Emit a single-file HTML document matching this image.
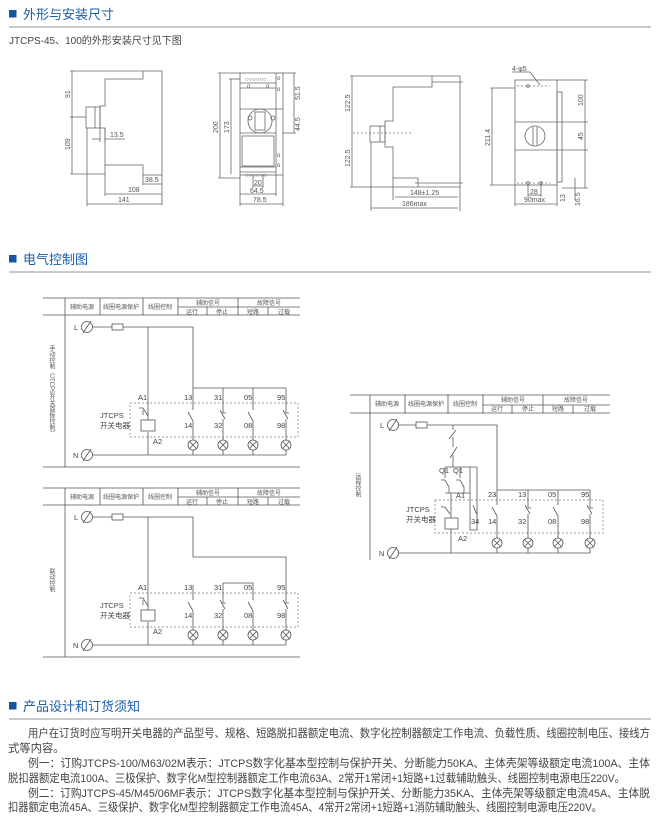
<!DOCTYPE html>
<html><head><meta charset="utf-8"><style>
html,body{margin:0;padding:0;background:#fff;}
svg{display:block;font-family:"Liberation Sans","Noto Sans CJK SC",sans-serif;}
.d{stroke:#666;stroke-width:0.8;fill:none;}
.w{stroke:#555;stroke-width:0.8;fill:none;}
.ds{stroke:#777;stroke-width:0.7;fill:none;stroke-dasharray:2,2;}
.t{fill:#555;font-size:7px;}
.h{fill:#555;font-size:6px;}
.c{fill:#444;font-size:7.5px;}
.p{fill:#444;font-size:11.3px;}
</style></head><body>
<svg width="660" height="820" viewBox="0 0 660 820" xmlns="http://www.w3.org/2000/svg">
<!-- Section headers -->
<rect x="9" y="10" width="7.5" height="7.5" fill="#1456a0"/>
<text x="23" y="19" font-size="13" fill="#1a5ea8">外形与安装尺寸</text>
<line x1="9" y1="27" x2="651" y2="27" stroke="#aaa" stroke-width="1.3"/>
<text x="9" y="44" font-size="10" fill="#444">JTCPS-45、100的外形安装尺寸见下图</text>

<rect x="9" y="255" width="7.5" height="7.5" fill="#1456a0"/>
<text x="23" y="264" font-size="13" fill="#1a5ea8">电气控制图</text>
<line x1="9" y1="272" x2="651" y2="272" stroke="#aaa" stroke-width="1.3"/>

<rect x="9" y="702" width="7.5" height="7.5" fill="#1456a0"/>
<text x="23" y="711" font-size="13" fill="#1a5ea8">产品设计和订货须知</text>
<line x1="9" y1="719" x2="651" y2="719" stroke="#aaa" stroke-width="1.3"/>

<!-- Paragraph -->
<text class="p" x="28" y="737" textLength="622" lengthAdjust="spacingAndGlyphs">用户在订货时应写明开关电器的产品型号、规格、短路脱扣器额定电流、数字化控制器额定工作电流、负载性质、线圈控制电压、接线方</text>
<text class="p" x="8" y="752">式等内容。</text>
<text class="p" x="28" y="767" textLength="622" lengthAdjust="spacingAndGlyphs">例一：订购JTCPS-100/M63/02M表示：JTCPS数字化基本型控制与保护开关、分断能力50KA、主体壳架等级额定电流100A、主体</text>
<text class="p" x="8" y="782" textLength="617" lengthAdjust="spacingAndGlyphs">脱扣器额定电流100A、三极保护、数字化M型控制器额定工作电流63A、2常开1常闭+1短路+1过载辅助触头、线圈控制电源电压220V。</text>
<text class="p" x="28" y="797" textLength="622" lengthAdjust="spacingAndGlyphs">例二：订购JTCPS-45/M45/06MF表示：JTCPS数字化基本型控制与保护开关、分断能力35KA、主体壳架等级额定电流45A、主体脱</text>
<text class="p" x="8" y="811" textLength="594" lengthAdjust="spacingAndGlyphs">扣器额定电流45A、三级保护、数字化M型控制器额定工作电流45A、4常开2常闭+1短路+1消防辅助触头、线圈控制电源电压220V。</text>

<!-- Drawing 1: side view -->
<g>
<path class="d" d="M143,71 H162 V175 H143 V165 H105 V128 H100 V106 H105 V79 H143 Z"/>
<rect class="d" x="86" y="107" width="14" height="21"/>
<line class="d" x1="95" y1="107" x2="95" y2="128"/>
<line class="d" x1="70" y1="71" x2="143" y2="71"/>
<line class="d" x1="70" y1="117" x2="86" y2="117"/>
<line class="d" x1="70" y1="174" x2="105" y2="174"/>
<line class="d" x1="72" y1="71" x2="72" y2="174"/>
<text class="t" transform="translate(70,98) rotate(-90)">91</text>
<text class="t" transform="translate(70,150) rotate(-90)">109</text>
<line class="d" x1="100" y1="128" x2="100" y2="142"/>
<line class="d" x1="105" y1="128" x2="105" y2="142"/>
<line class="d" x1="92" y1="139" x2="100" y2="139"/><line class="d" x1="105" y1="139" x2="125" y2="139"/>
<text class="t" x="110" y="137">13.5</text>
<line class="d" x1="143" y1="175" x2="143" y2="185"/>
<line class="d" x1="162" y1="175" x2="162" y2="205"/>
<line class="d" x1="143" y1="184" x2="162" y2="184"/><text class="t" x="145" y="182">38.5</text>
<line class="d" x1="105" y1="165" x2="105" y2="196"/>
<line class="d" x1="105" y1="194" x2="162" y2="194"/><text class="t" x="128" y="192">108</text>
<line class="d" x1="87" y1="128" x2="87" y2="206"/>
<line class="d" x1="87" y1="204" x2="162" y2="204"/><text class="t" x="118" y="202">141</text>
</g>

<!-- Drawing 2: front view -->
<g>
<rect class="d" x="240" y="73" width="43" height="102"/>
<line class="d" x1="276" y1="73" x2="276" y2="175"/>
<line class="d" x1="240" y1="83" x2="276" y2="83"/>
<line class="d" x1="240" y1="88" x2="276" y2="88"/>
<line class="d" x1="240" y1="109" x2="283" y2="109"/>
<line class="d" x1="240" y1="133" x2="276" y2="133"/>
<line class="d" x1="240" y1="167" x2="276" y2="167"/>
<line class="d" x1="240" y1="172" x2="276" y2="172"/>
<text class="h" x="245" y="81">○○○○○○</text>
<text class="h" x="245" y="177">○○○○○○</text>
<text class="h" x="247" y="88">o</text><text class="h" x="266" y="88">o</text>
<text class="h" x="277" y="80">o</text><text class="h" x="277" y="91">o</text>
<text class="h" x="277" y="157">o</text><text class="h" x="277" y="167">o</text>
<circle class="d" cx="260" cy="121" r="12"/>
<rect class="d" x="255" y="112" width="10" height="18"/>
<circle class="d" cx="250" cy="118" r="2"/><circle class="d" cx="273" cy="118" r="2"/>
<rect class="d" x="242" y="136" width="32" height="30"/>
<line class="d" x1="218" y1="73" x2="240" y2="73"/>
<line class="d" x1="218" y1="178" x2="240" y2="178"/>
<line class="d" x1="220" y1="73" x2="220" y2="178"/>
<text class="t" transform="translate(218,133) rotate(-90)">200</text>
<line class="d" x1="229" y1="79" x2="240" y2="79"/>
<line class="d" x1="231" y1="79" x2="231" y2="174"/>
<text class="t" transform="translate(229,133) rotate(-90)">173</text>
<line class="d" x1="283" y1="73" x2="296" y2="73"/>
<line class="d" x1="283" y1="133" x2="296" y2="133"/>
<line class="d" x1="294" y1="73" x2="294" y2="133"/>
<text class="t" transform="translate(300,100) rotate(-90)">51.5</text>
<text class="t" transform="translate(300,131) rotate(-90)">44.5</text>
<line class="d" x1="253" y1="175" x2="253" y2="188"/><line class="d" x1="263" y1="175" x2="263" y2="188"/>
<line class="d" x1="253" y1="186" x2="263" y2="186"/><text class="t" x="254" y="185">20</text>
<line class="d" x1="240" y1="175" x2="240" y2="206"/><line class="d" x1="276" y1="175" x2="276" y2="196"/>
<line class="d" x1="240" y1="194" x2="276" y2="194"/><text class="t" x="250" y="193">64.5</text>
<line class="d" x1="283" y1="175" x2="283" y2="206"/>
<line class="d" x1="240" y1="204" x2="283" y2="204"/><text class="t" x="253" y="202">78.5</text>
</g>

<!-- Drawing 3 -->
<g>
<path class="d" d="M460,76 V187 M393,87 H432 V76 M393,87 V121 H385 V147 H393 V178 H418 V187"/>
<line class="d" x1="432" y1="82" x2="463" y2="82"/>
<line class="d" x1="415" y1="183" x2="463" y2="183"/>
<rect class="d" x="370" y="126" width="15" height="16"/>
<line class="d" x1="380" y1="126" x2="380" y2="142"/>
<line class="ds" x1="353" y1="133" x2="413" y2="133"/>
<line class="d" x1="350" y1="76" x2="460" y2="76"/>
<line class="d" x1="350" y1="187" x2="460" y2="187"/>
<line class="d" x1="352" y1="76" x2="352" y2="187"/>
<text class="t" transform="translate(350,112) rotate(-90)">122.5</text>
<text class="t" transform="translate(350,167) rotate(-90)">122.5</text>
<line class="d" x1="393" y1="178" x2="393" y2="200"/>
<line class="d" x1="395" y1="197" x2="458" y2="197"/><text class="t" x="410" y="195">148±1.25</text>
<line class="d" x1="371" y1="142" x2="371" y2="211"/>
<line class="d" x1="460" y1="187" x2="460" y2="211"/>
<line class="d" x1="371" y1="208" x2="458" y2="208"/><text class="t" x="402" y="206">186max</text>
</g>

<!-- Drawing 4 -->
<g>
<rect class="d" x="515" y="80" width="42" height="105"/>
<rect class="d" x="557" y="92" width="5" height="90"/>
<line class="d" x1="515" y1="122" x2="557" y2="122"/>
<line class="d" x1="515" y1="150" x2="557" y2="150"/>
<line class="ds" x1="517" y1="86" x2="550" y2="86"/>
<line class="ds" x1="517" y1="183" x2="550" y2="183"/>
<circle class="d" cx="528" cy="86" r="1.3"/><circle class="d" cx="528" cy="183" r="1.3"/><circle class="d" cx="541" cy="183" r="1.3"/>
<circle class="d" cx="535" cy="136" r="10"/>
<line class="d" x1="533" y1="127" x2="533" y2="145"/><line class="d" x1="537" y1="127" x2="537" y2="145"/>
<text class="t" x="512" y="71">4-φ5</text>
<line class="d" x1="512" y1="72" x2="530" y2="72"/><line class="d" x1="530" y1="72" x2="540" y2="85"/>
<line class="d" x1="490" y1="88" x2="515" y2="88"/><line class="d" x1="490" y1="185" x2="515" y2="185"/>
<line class="d" x1="492" y1="88" x2="492" y2="185"/>
<text class="t" transform="translate(490,146) rotate(-90)">211.4</text>
<line class="d" x1="557" y1="80" x2="588" y2="80"/><line class="d" x1="557" y1="122" x2="588" y2="122"/>
<line class="d" x1="557" y1="150" x2="588" y2="150"/><line class="d" x1="562" y1="188" x2="588" y2="188"/>
<line class="d" x1="585" y1="80" x2="585" y2="188"/>
<text class="t" transform="translate(583,106) rotate(-90)">100</text>
<text class="t" transform="translate(583,140) rotate(-90)">45</text>
<line class="d" x1="528" y1="185" x2="528" y2="197"/><line class="d" x1="541" y1="185" x2="541" y2="197"/>
<line class="d" x1="528" y1="195" x2="541" y2="195"/><text class="t" x="530" y="194">28</text>
<line class="d" x1="515" y1="185" x2="515" y2="206"/><line class="d" x1="557" y1="185" x2="557" y2="206"/>
<line class="d" x1="515" y1="204" x2="557" y2="204"/><text class="t" x="524" y="202">90max</text>
<text class="t" transform="translate(565,202) rotate(-90)">13</text>
<line class="d" x1="575" y1="178" x2="575" y2="200"/>
<text class="t" transform="translate(580,206) rotate(-90)">16.5</text>
</g>

<!-- Circuit table template -->
<defs>
<g id="tbl">
<line class="w" x1="43" y1="0" x2="300" y2="0"/>
<line class="w" x1="43" y1="17" x2="300" y2="17"/>
<line class="w" x1="178" y1="9" x2="300" y2="9"/>
<line class="w" x1="65" y1="0" x2="65" y2="169"/>
<line class="w" x1="100" y1="0" x2="100" y2="17"/>
<line class="w" x1="143" y1="0" x2="143" y2="17"/>
<line class="w" x1="178" y1="0" x2="178" y2="17"/>
<line class="w" x1="238" y1="0" x2="238" y2="17"/>
<line class="w" x1="207" y1="9" x2="207" y2="17"/>
<line class="w" x1="268" y1="9" x2="268" y2="17"/>
<line class="w" x1="43" y1="169" x2="300" y2="169"/>
</g>
<g id="lamp"><circle cx="0" cy="0" r="5" fill="#fff" stroke="#555" stroke-width="0.8"/><path d="M-3.5,-3.5 L3.5,3.5 M3.5,-3.5 L-3.5,3.5" stroke="#555" stroke-width="0.8"/></g>
<g id="term"><circle cx="0" cy="0" r="5.5" fill="none" stroke="#555" stroke-width="0.8"/><line x1="-4" y1="6" x2="4" y2="-6" stroke="#555" stroke-width="0.8"/></g>
<g id="no"><path d="M0,0 V5 M-5,7 L0,16 M0,16 V20" stroke="#555" stroke-width="0.8" fill="none"/></g>
<g id="nc"><path d="M0,0 V8 H3 M-3,5 L2,14 M0,14 V20" stroke="#555" stroke-width="0.8" fill="none"/></g>
</defs>

<!-- Circuit 1 -->
<g>
<use href="#tbl" y="298"/>
<text class="h" x="82" y="309" text-anchor="middle">辅助电源</text>
<text class="h" x="121" y="309" text-anchor="middle">线圈电源保护</text>
<text class="h" x="160" y="309" text-anchor="middle">线圈控制</text>
<text class="h" x="208" y="305" text-anchor="middle">辅助信号</text>
<text class="h" x="269" y="305" text-anchor="middle">故障信号</text>
<text class="h" x="192" y="314" text-anchor="middle">运行</text>
<text class="h" x="222" y="314" text-anchor="middle">停止</text>
<text class="h" x="253" y="314" text-anchor="middle">短路</text>
<text class="h" x="284" y="314" text-anchor="middle">过载</text>
<text class="h" x="51" y="345" writing-mode="tb">手动控制（JTCPS开关面板控制）</text>
<text class="c" x="74" y="330">L</text><use href="#term" x="87" y="327"/>
<text class="c" x="73" y="458">N</text><use href="#term" x="87" y="455"/>
<path class="w" d="M93,327 H112 M123,327 H193 V388 H286"/>
<rect class="w" x="112" y="324" width="11" height="6"/>
<path class="w" d="M148,327 V420 M148,432 V455 M93,455 H286"/>
<rect class="w" x="141" y="420" width="14" height="11"/>
<path class="w" d="M139,408 L143,408 L148,416 M143,410 V415"/>
<rect class="ds" x="130" y="403" width="168" height="34"/>
<path class="w" d="M193,388 V405 M223,388 V405 M253,388 V405 M286,388 V405"/>
<use href="#no" x="193" y="405"/><use href="#nc" x="223" y="405"/><use href="#no" x="253" y="405"/><use href="#nc" x="286" y="405"/>
<path class="w" d="M193,425 V455 M223,425 V455 M253,425 V455 M286,425 V455"/>
<use href="#lamp" x="193" y="445"/><use href="#lamp" x="223" y="445"/><use href="#lamp" x="253" y="445"/><use href="#lamp" x="286" y="445"/>
<text class="c" x="138" y="400">A1</text><text class="c" x="184" y="400">13</text><text class="c" x="214" y="400">31</text><text class="c" x="244" y="400">05</text><text class="c" x="277" y="400">95</text>
<text class="c" x="184" y="428">14</text><text class="c" x="214" y="428">32</text><text class="c" x="244" y="428">08</text><text class="c" x="277" y="428">98</text>
<text class="c" x="153" y="444">A2</text>
<text class="c" x="100" y="418">JTCPS</text><text class="c" x="100" y="428">开关电器</text>
</g>

<!-- Circuit 2 -->
<g>
<use href="#tbl" y="488"/>
<text class="h" x="82" y="499" text-anchor="middle">辅助电源</text>
<text class="h" x="121" y="499" text-anchor="middle">线圈电源保护</text>
<text class="h" x="160" y="499" text-anchor="middle">线圈控制</text>
<text class="h" x="208" y="495" text-anchor="middle">辅助信号</text>
<text class="h" x="269" y="495" text-anchor="middle">故障信号</text>
<text class="h" x="192" y="504" text-anchor="middle">运行</text>
<text class="h" x="222" y="504" text-anchor="middle">停止</text>
<text class="h" x="253" y="504" text-anchor="middle">短路</text>
<text class="h" x="284" y="504" text-anchor="middle">过载</text>
<text class="h" x="51" y="568" writing-mode="tb">联动控制</text>
<text class="c" x="74" y="520">L</text><use href="#term" x="87" y="517"/>
<text class="c" x="73" y="648">N</text><use href="#term" x="87" y="645"/>
<path class="w" d="M93,517 H112 M123,517 H193 V557 H286 V595"/>
<rect class="w" x="112" y="514" width="11" height="6"/>
<path class="w" d="M148,517 V610 M148,622 V645 M93,645 H286"/>
<rect class="w" x="141" y="610" width="14" height="11"/>
<path class="w" d="M139,598 L143,598 L148,606 M143,600 V605"/>
<rect class="ds" x="130" y="593" width="168" height="34"/>
<path class="w" d="M193,585 V595 M223,583 V595 M223,583 H253 V595"/>
<use href="#no" x="193" y="595"/><use href="#nc" x="223" y="595"/><use href="#no" x="253" y="595"/><use href="#nc" x="286" y="595"/>
<path class="w" d="M193,615 V645 M223,615 V645 M253,615 V645 M286,615 V645"/>
<use href="#lamp" x="193" y="635"/><use href="#lamp" x="223" y="635"/><use href="#lamp" x="253" y="635"/><use href="#lamp" x="286" y="635"/>
<text class="c" x="138" y="590">A1</text><text class="c" x="184" y="590">13</text><text class="c" x="214" y="590">31</text><text class="c" x="244" y="590">05</text><text class="c" x="277" y="590">95</text>
<text class="c" x="184" y="618">14</text><text class="c" x="214" y="618">32</text><text class="c" x="244" y="618">08</text><text class="c" x="277" y="618">98</text>
<text class="c" x="153" y="634">A2</text>
<text class="c" x="100" y="608">JTCPS</text><text class="c" x="100" y="618">开关电器</text>
</g>

<!-- Circuit 3 -->
<g>
<path class="w" d="M350,395 H610 M350,413 H610 M483,405 H610 M370,395 V560 M405,395 V413 M448,395 V413 M483,395 V413 M543,395 V413 M512,405 V413 M573,405 V413"/>
<text class="h" x="387" y="406" text-anchor="middle">辅助电源</text>
<text class="h" x="426" y="406" text-anchor="middle">线圈电源保护</text>
<text class="h" x="465" y="406" text-anchor="middle">线圈控制</text>
<text class="h" x="513" y="402" text-anchor="middle">辅助信号</text>
<text class="h" x="576" y="402" text-anchor="middle">故障信号</text>
<text class="h" x="497" y="411" text-anchor="middle">运行</text>
<text class="h" x="528" y="411" text-anchor="middle">停止</text>
<text class="h" x="558" y="411" text-anchor="middle">短路</text>
<text class="h" x="590" y="411" text-anchor="middle">过载</text>
<text class="h" x="357" y="473" writing-mode="tb">远程控制</text>
<text class="c" x="380" y="428">L</text><use href="#term" x="393" y="425"/>
<text class="c" x="379" y="556">N</text><use href="#term" x="393" y="553"/>
<path class="w" d="M399,425 H416 M427,425 H497 V490 H590"/>
<rect class="w" x="416" y="422" width="11" height="6"/>
<path class="w" d="M453,425 V430 M456,430 L449,439 M453,437 V447 M457,447 L450,458 M453,455 V467 M445,467 H477"/>
<path class="w" d="M445,467 V478 M441,480 L445,480 L449,487 M449,487 V493 M460,467 V478 M456,480 L460,480 L464,487 M464,487 V493 M445,493 H470"/>
<path class="w" d="M470,467 V530 H477 V467 M473,505 L477,515"/>
<path class="w" d="M451,493 V518 M451,529 V553 M399,553 H590"/>
<rect class="w" x="445" y="518" width="13" height="11"/>
<path class="w" d="M441,507 L445,507 L450,514"/>
<rect class="ds" x="435" y="500" width="168" height="33"/>
<path class="w" d="M497,490 V500 M528,490 V500 M558,490 V500 M590,490 V500"/>
<use href="#no" x="497" y="500"/><use href="#nc" x="528" y="500"/><use href="#no" x="558" y="500"/><use href="#nc" x="590" y="500"/>
<path class="w" d="M497,520 V553 M528,520 V553 M558,520 V553 M590,520 V553"/>
<use href="#lamp" x="497" y="543"/><use href="#lamp" x="528" y="543"/><use href="#lamp" x="558" y="543"/><use href="#lamp" x="590" y="543"/>
<text class="c" x="439" y="473">Q1</text><text class="c" x="453" y="473">Q1</text>
<text class="c" x="456" y="498">A1</text><text class="c" x="488" y="497">23</text><text class="c" x="518" y="497">13</text><text class="c" x="548" y="497">05</text><text class="c" x="581" y="497">95</text>
<text class="c" x="471" y="524">34</text><text class="c" x="488" y="524">14</text><text class="c" x="518" y="524">32</text><text class="c" x="548" y="524">08</text><text class="c" x="581" y="524">98</text>
<text class="c" x="458" y="541">A2</text>
<text class="c" x="406" y="512">JTCPS</text><text class="c" x="406" y="522">开关电器</text>
</g>
</svg>
</body></html>
